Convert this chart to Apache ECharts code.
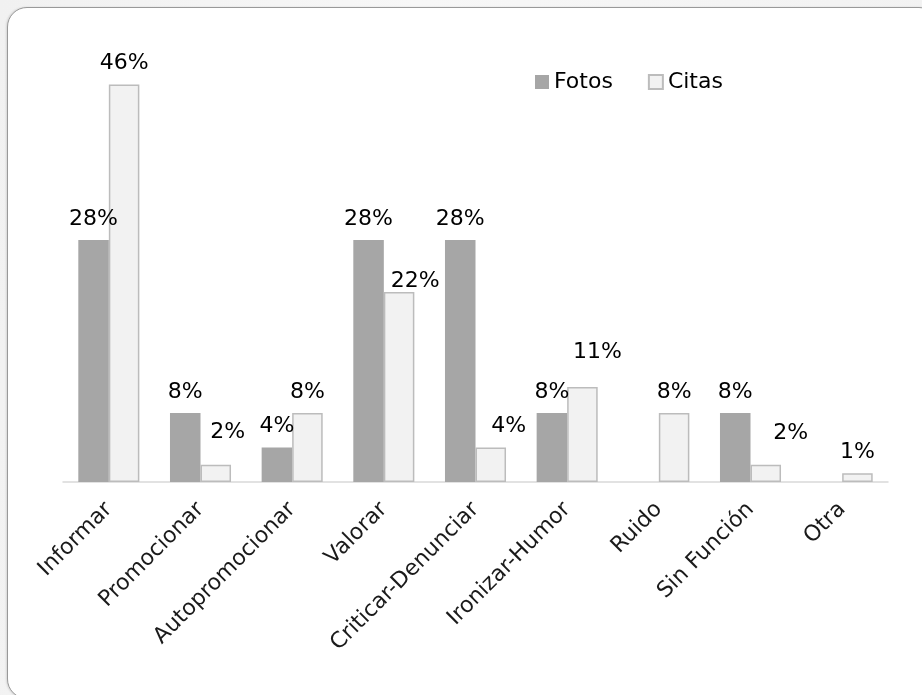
<!DOCTYPE html>
<html>
<head>
<meta charset="utf-8">
<title>Funciones de fotos y citas</title>
<script src="https://cdn.jsdelivr.net/npm/echarts@6/dist/echarts.min.js"></script>
<style>
  html, body { margin: 0; padding: 0; width: 922px; height: 695px; overflow: hidden;
    background: linear-gradient(100deg, #f1f1f1 0%, #f7f7f7 40%, #f1f1f1 100%); }
  #panel { position: absolute; left: 7px; top: 7px; width: 930px; height: 690px;
    background: #ffffff; border: 1px solid #999999; border-radius: 20px;
    box-shadow: -1px 0 2px rgba(0,0,0,0.12); }
  #chart { position: absolute; left: 0; top: 0; width: 922px; height: 695px; }
</style>
</head>
<body>
<div id="panel"></div>
<div id="chart"></div>
<script>
// Categories and percentage shares for each series
const categories = ['Informar', 'Promocionar', 'Autopromocionar', 'Valorar', 'Criticar-Denunciar',
  'Ironizar-Humor', 'Ruido', 'Sin Función', 'Otra'];
const fotos = [28, 8, 4, 28, 28, 8, 0, 8, 0];
const citas = [46, 2, 8, 22, 4, 11, 8, 2, 1];

// Hand-placed label shifts (pixels) for a few Citas labels
const citasLabelShift = { 1: [12, -11], 3: [16, 10], 4: [18, 0], 5: [15, -14], 7: [25, -10] };

const labelFont = { fontFamily: 'DejaVu Sans', fontSize: 22, color: '#000' };

function buildData(values, shifts) {
  return values.map((v, i) => {
    const item = { value: v };
    if (shifts && shifts[i]) item.label = { offset: shifts[i] };
    return item;
  });
}

const chart = echarts.init(document.getElementById('chart'), null, { renderer: 'canvas' });
chart.setOption({
  backgroundColor: 'transparent',
  animation: false,
  legend: {
    left: 530, top: 66,
    itemWidth: 14, itemHeight: 14, itemGap: 35,
    icon: 'rect',
    textStyle: { fontFamily: 'DejaVu Sans', fontSize: 22, color: '#000', padding: [0, 0, 0, 0] },
    data: ['Fotos', 'Citas']
  },
  grid: { left: 63, right: 34, top: 50, bottom: 213 },
  xAxis: {
    type: 'category',
    data: categories,
    axisLine: { lineStyle: { color: '#d9d9d9', width: 1.5 } },
    axisTick: { show: false },
    axisLabel: { rotate: 45, margin: 24, interval: 0,
      fontFamily: 'DejaVu Sans', fontSize: 22, color: '#1a1a1a' }
  },
  yAxis: { type: 'value', min: 0, max: 50, show: false, splitLine: { show: false } },
  series: [
    {
      name: 'Fotos', type: 'bar', barGap: '0%', barCategoryGap: '33.4%',
      data: buildData(fotos),
      itemStyle: { color: '#a6a6a6', borderWidth: 0 },
      label: { show: true, position: 'top', distance: 10, ...labelFont,
        formatter: p => p.value ? p.value + '%' : '' }
    },
    {
      name: 'Citas', type: 'bar',
      data: buildData(citas, citasLabelShift),
      itemStyle: { color: '#f2f2f2', borderColor: '#bcbcbc', borderWidth: 1.5 },
      label: { show: true, position: 'top', distance: 10, ...labelFont,
        formatter: p => p.value ? p.value + '%' : '' }
    }
  ]
});
</script>
</body>
</html>
